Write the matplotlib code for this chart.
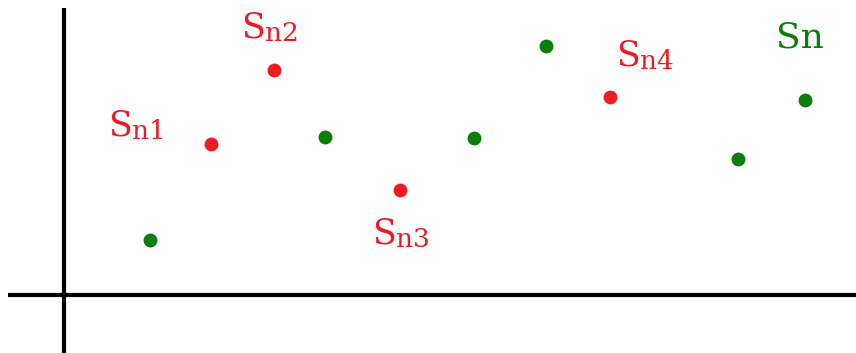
import matplotlib.pyplot as plt

plt.rcParams['font.family'] = ['DejaVu Serif']

# sample points, in pixel-like coordinates (y grows downward)
green_x = [150, 325, 474, 546, 738, 805]
green_y = [240, 137, 138, 46, 159, 100]
red_x = [211, 274, 400, 610]
red_y = [144, 70, 190, 97]

# labels for the red points: "S" plus a small index
subs = ['n1', 'n2', 'n3', 'n4']
label_x = [108, 241, 372, 616]
label_y = [135, 37, 243, 65]

RED = '#ed1c24'
GREEN = '#0a7d0a'

fig = plt.figure(figsize=(8.56, 3.53), dpi=100)
ax = fig.add_axes([0, 0, 1, 1])
ax.set_xlim(0, 856)
ax.set_ylim(353, 0)
ax.axis('off')

# the two axes
ax.plot([8, 856], [295, 295], color='black', lw=3, solid_capstyle='butt')
ax.plot([64, 64], [8, 353], color='black', lw=3, solid_capstyle='butt')

ax.scatter(green_x, green_y, s=100, color=GREEN, zorder=3, linewidths=0)
ax.scatter(red_x, red_y, s=100, color=RED, zorder=3, linewidths=0)

for sub, x, y in zip(subs, label_x, label_y):
    s = ax.text(x, y, 'S', color=RED, fontsize=25, ha='left', va='baseline')
    ax.annotate(sub, xy=(1, 0), xycoords=s, xytext=(0.5, -1.5),
                textcoords='offset points', color=RED, fontsize=19,
                ha='left', va='bottom')

ax.text(776, 47, 'Sn', color=GREEN, fontsize=26, ha='left', va='baseline')

fig.savefig('out.png', dpi=100)
